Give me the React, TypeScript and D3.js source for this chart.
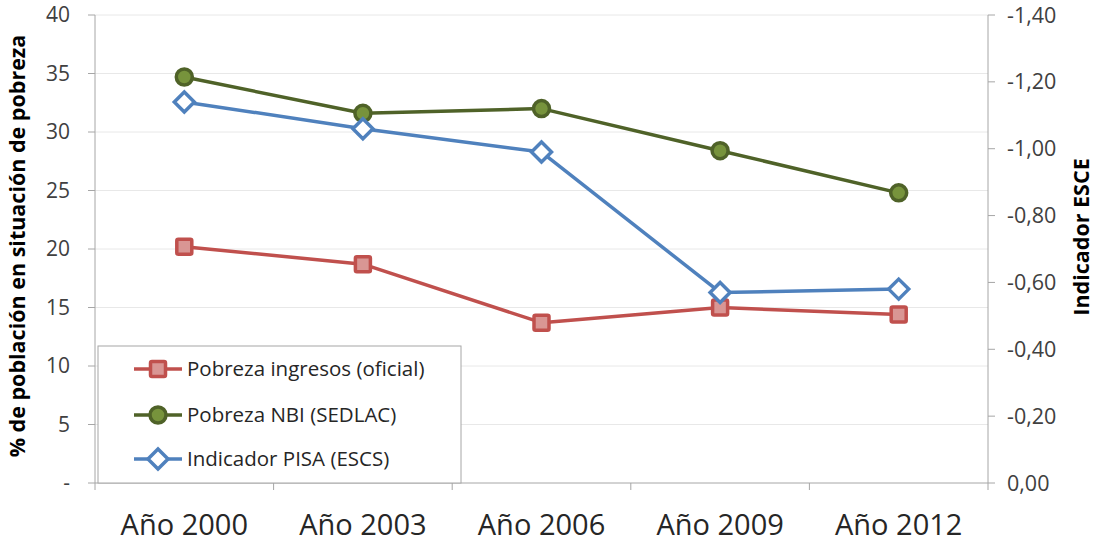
import React, { useRef, useEffect } from "react";
import * as d3 from "d3";

const categories = ["Año 2000", "Año 2003", "Año 2006", "Año 2009", "Año 2012"];
const ingresos = [20.2, 18.7, 13.7, 15.0, 14.4];
const nbi = [34.7, 31.6, 32.0, 28.4, 24.8];
const pisa = [-1.14, -1.06, -0.99, -0.57, -0.58];
const leftTicks = [0, 5, 10, 15, 20, 25, 30, 35, 40];
const rightTicks = [0, -0.2, -0.4, -0.6, -0.8, -1.0, -1.2, -1.4];
const seriesNames = ["Pobreza ingresos (oficial)", "Pobreza NBI (SEDLAC)", "Indicador PISA (ESCS)"];

const W = 1095;
const H = 544;
const FONT = "'Open Sans', Lato, sans-serif";

const App: React.FC = () => {
  const ref = useRef<SVGSVGElement>(null);

  useEffect(() => {
    if (!ref.current) return;
    const svg = d3.select(ref.current);
    svg.selectAll("*").remove();

    const left = 95, right = 988, top = 15, bottom = 483;

    const x = d3.scaleBand().domain(categories).range([left, right]);
    const yL = d3.scaleLinear().domain([0, 40]).range([bottom, top]);
    const yR = d3.scaleLinear().domain([0, -1.4]).range([bottom, top]);
    const cx = (c: string) => (x(c) as number) + x.bandwidth() / 2;

    // gridlines
    svg.append("g")
      .selectAll("line")
      .data(leftTicks.slice(1))
      .enter()
      .append("line")
      .attr("x1", left).attr("x2", right)
      .attr("y1", (d) => yL(d)).attr("y2", (d) => yL(d))
      .attr("stroke", "#e8e8e8").attr("stroke-width", 1);

    const axisColor = "#a6a6a6";

    // left axis
    svg.append("line").attr("x1", left).attr("x2", left).attr("y1", top).attr("y2", bottom)
      .attr("stroke", axisColor);
    leftTicks.forEach((t) => {
      svg.append("line").attr("x1", left - 7).attr("x2", left).attr("y1", yL(t)).attr("y2", yL(t))
        .attr("stroke", axisColor);
      svg.append("text").attr("x", 70).attr("y", yL(t)).attr("dy", "0.35em")
        .attr("text-anchor", "end").attr("font-family", FONT).attr("font-size", 21).attr("fill", "#404040")
        .text(t === 0 ? "-" : String(t));
    });

    // right axis
    svg.append("line").attr("x1", right).attr("x2", right).attr("y1", top).attr("y2", bottom)
      .attr("stroke", axisColor);
    rightTicks.forEach((t) => {
      svg.append("line").attr("x1", right).attr("x2", right + 7).attr("y1", yR(t)).attr("y2", yR(t))
        .attr("stroke", axisColor);
      svg.append("text").attr("x", 1007).attr("y", yR(t)).attr("dy", "0.35em")
        .attr("text-anchor", "start").attr("font-family", FONT).attr("font-size", 21.5).attr("fill", "#404040")
        .text(d3.format(".2f")(t).replace(".", ",").replace("−", "-"));
    });

    // x axis
    svg.append("line").attr("x1", left).attr("x2", right).attr("y1", bottom).attr("y2", bottom)
      .attr("stroke", axisColor);
    const bounds = categories.map((c) => x(c) as number).concat([right]);
    bounds.forEach((b) => {
      svg.append("line").attr("x1", b).attr("x2", b).attr("y1", bottom).attr("y2", bottom + 7)
        .attr("stroke", axisColor);
    });
    categories.forEach((c) => {
      svg.append("text").attr("x", cx(c)).attr("y", 535)
        .attr("text-anchor", "middle").attr("font-family", FONT).attr("font-size", 29).attr("fill", "#262626")
        .text(c);
    });

    // axis titles
    svg.append("text")
      .attr("transform", `translate(25,246) rotate(-90)`)
      .attr("text-anchor", "middle").attr("font-family", FONT).attr("font-size", 21.5)
      .attr("font-weight", "bold").attr("fill", "#000")
      .text("% de población en situación de pobreza");
    svg.append("text")
      .attr("transform", `translate(1089,237) rotate(-90)`)
      .attr("text-anchor", "middle").attr("font-family", FONT).attr("font-size", 21.5)
      .attr("font-weight", "bold").attr("fill", "#000")
      .text("Indicador ESCE");

    // legend box
    svg.append("rect").attr("x", 98).attr("y", 346).attr("width", 363).attr("height", 137)
      .attr("fill", "#fff").attr("stroke", "#a6a6a6");

    const line = d3.line<[number, number]>().x((d) => d[0]).y((d) => d[1]);

    const drawSquare = (g: any, px: number, py: number) =>
      g.append("rect").attr("x", px - 7.5).attr("y", py - 7.5).attr("width", 15).attr("height", 15)
        .attr("rx", 1.5).attr("fill", "#d99694").attr("stroke", "#c0504d").attr("stroke-width", 3.5);
    const drawCircle = (g: any, px: number, py: number) =>
      g.append("circle").attr("cx", px).attr("cy", py).attr("r", 8)
        .attr("fill", "#77933c").attr("stroke", "#4f6228").attr("stroke-width", 3.5);
    const drawDiamond = (g: any, px: number, py: number) =>
      g.append("path")
        .attr("d", `M${px},${py - 10}L${px + 10},${py}L${px},${py + 10}L${px - 10},${py}Z`)
        .attr("fill", "#fff").attr("stroke", "#4f81bd").attr("stroke-width", 3.5);

    const series = [
      { data: ingresos, y: yL, color: "#c0504d", marker: drawSquare },
      { data: nbi, y: yL, color: "#4f6228", marker: drawCircle },
      { data: pisa, y: yR, color: "#4f81bd", marker: drawDiamond },
    ];

    series.forEach((s) => {
      const pts = s.data.map((v, i) => [cx(categories[i]), s.y(v)] as [number, number]);
      const g = svg.append("g");
      g.append("path").attr("d", line(pts)).attr("fill", "none")
        .attr("stroke", s.color).attr("stroke-width", 3.5).attr("stroke-linejoin", "round");
      pts.forEach((p) => s.marker(g, p[0], p[1]));
    });

    // legend entries
    const legY = [369, 415, 459];
    series.forEach((s, i) => {
      const g = svg.append("g");
      g.append("line").attr("x1", 134).attr("x2", 182).attr("y1", legY[i]).attr("y2", legY[i])
        .attr("stroke", s.color).attr("stroke-width", 3.5);
      s.marker(g, 158, legY[i]);
      g.append("text").attr("x", 187).attr("y", legY[i]).attr("dy", "0.35em")
        .attr("font-family", FONT).attr("font-size", 20.5).attr("fill", "#262626")
        .text(seriesNames[i]);
    });
  }, []);

  return <svg ref={ref} width={W} height={H} style={{ position: "absolute", left: 0, top: 0 }} />;
};

export default App;
